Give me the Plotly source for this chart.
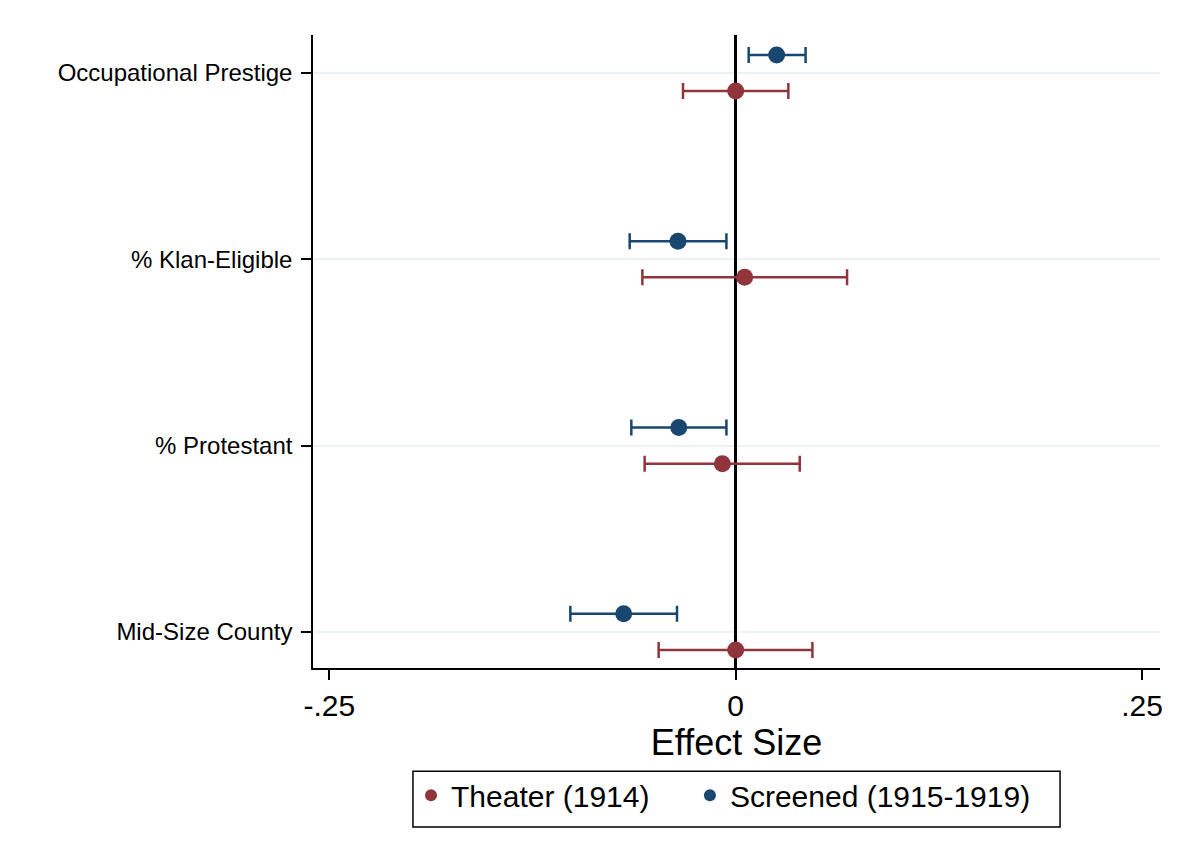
import plotly.graph_objects as go

categories = ["Occupational Prestige", "% Klan-Eligible", "% Protestant", "Mid-Size County"]
cat_pos = [4, 3, 2, 1]

theater_est = [0.0, 0.0055, -0.0082, 0.0]
theater_lo = [-0.0324, -0.0574, -0.0560, -0.0474]
theater_hi = [0.0324, 0.0685, 0.0394, 0.0472]

screened_est = [0.0252, -0.0355, -0.0350, -0.0689]
screened_lo = [0.0080, -0.0652, -0.0642, -0.1017]
screened_hi = [0.0430, -0.0057, -0.0057, -0.0361]

xtick_vals = [-0.25, 0, 0.25]
xtick_text = ["-.25", "0", ".25"]

RED = "#90353b"
BLUE = "#1a476f"
OFF = 0.097

fig = go.Figure()

fig.add_trace(go.Scatter(
    x=theater_est,
    y=[p - OFF for p in cat_pos],
    mode="markers",
    name="Theater (1914)",
    legend="legend",
    marker=dict(color=RED, size=17),
    error_x=dict(
        type="data", symmetric=False,
        array=[h - e for h, e in zip(theater_hi, theater_est)],
        arrayminus=[e - l for e, l in zip(theater_est, theater_lo)],
        color=RED, thickness=2.5, width=8,
    ),
))

fig.add_trace(go.Scatter(
    x=screened_est,
    y=[p + OFF for p in cat_pos],
    mode="markers",
    name="Screened (1915-1919)",
    legend="legend2",
    marker=dict(color=BLUE, size=17),
    error_x=dict(
        type="data", symmetric=False,
        array=[h - e for h, e in zip(screened_hi, screened_est)],
        arrayminus=[e - l for e, l in zip(screened_est, screened_lo)],
        color=BLUE, thickness=2.5, width=8,
    ),
))

legend_common = dict(
    orientation="h", y=-0.16, yanchor="top", xanchor="left",
    borderwidth=0, font=dict(size=30), itemsizing="constant",
    bgcolor="rgba(0,0,0,0)",
)

fig.update_layout(
    width=1183, height=859,
    margin=dict(l=305, r=31, t=27, b=199),
    paper_bgcolor="white", plot_bgcolor="white",
    font=dict(family="Liberation Sans, Arial, sans-serif", color="black"),
    showlegend=True,
    legend=dict(x=0.1157, **legend_common),
    legend2=dict(x=0.445, **legend_common),
    shapes=[dict(
        type="rect", xref="paper", yref="paper",
        x0=0.118, x1=0.882, y0=-0.251, y1=-0.163,
        line=dict(color="black", width=1.5), fillcolor="rgba(0,0,0,0)",
        layer="below",
    )],
)

fig.update_xaxes(
    range=[-0.26, 0.261],
    tickvals=xtick_vals, ticktext=xtick_text,
    tickfont=dict(size=30), ticks="outside", ticklen=10, tickwidth=1.5, tickcolor="black",
    showline=True, linecolor="black", linewidth=1.5,
    showgrid=False,
    zeroline=True, zerolinecolor="black", zerolinewidth=2.5,
    title=dict(text="Effect Size", font=dict(size=36), standoff=2),
)

fig.update_yaxes(
    range=[0.806, 4.204],
    tickvals=cat_pos, ticktext=categories,
    tickfont=dict(size=24), ticks="outside", ticklen=10, tickwidth=1.5, tickcolor="black",
    showline=True, linecolor="black", linewidth=1.5,
    showgrid=True, gridcolor="#eaf2f3", gridwidth=2,
    zeroline=False, ticklabelstandoff=4,
)

fig.write_html("out.html")
